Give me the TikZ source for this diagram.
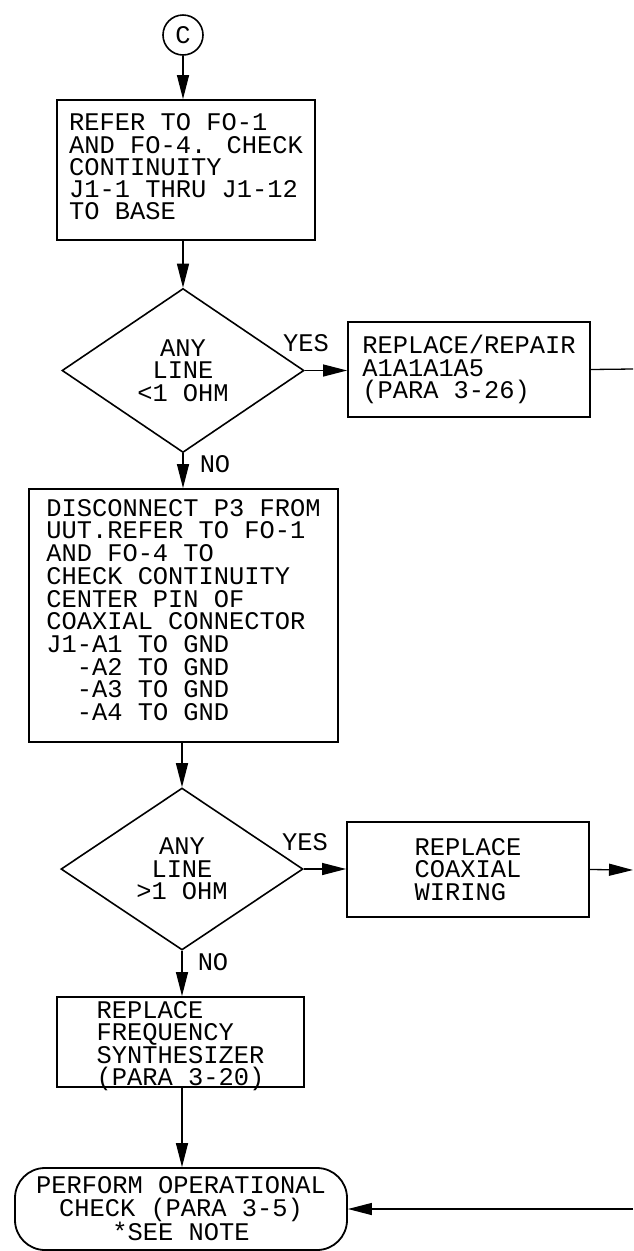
\documentclass[tikz,border=0pt]{standalone}
\usepackage{fontspec}
\usetikzlibrary{shapes.geometric,arrows.meta}
\newfontfamily\plotmono{Liberation Mono}
\newcommand{\plotfont}{\plotmono\fontsize{25.4}{22.3}\selectfont}
\newcommand{\plotfontwide}{\plotmono\fontsize{25.4}{22.7}\selectfont}
\tikzset{
  stepbox/.style={draw=black, line width=1.8pt, rectangle, inner sep=0pt, align=left, font=\plotfont},
  boxtext/.style={align=left, font=\plotfont, inner sep=0pt},
  decision/.style={draw=black, line width=1.6pt, diamond, inner sep=0pt, align=center, font=\plotfont},
  terminal/.style={draw=black, line width=1.8pt, rectangle, rounded corners=30pt, inner sep=0pt, align=center, font=\plotfont},
  conn/.style={draw=black, line width=1.3pt},
  arr/.style={conn, -{Triangle[length=24pt,width=12pt]}},
  lbl/.style={font=\plotfont, inner sep=0pt}
}
\begin{document}
\begin{tikzpicture}[x=1pt,y=-1pt]
\useasboundingbox[fill=white] (0,0) rectangle (633,1251);

\node[draw=black, line width=1.6pt, circle, minimum size=40pt, inner sep=0pt, font=\plotfont] (c) at (183,35) {C};

\node[stepbox, minimum width=258pt, minimum height=140pt,
  label={[boxtext, yshift=3pt]center:{REFER TO FO-1\\AND FO-4. CHECK\\CONTINUITY\\J1-1 THRU J1-12\\TO BASE}}] (b1) at (186,170) {};

\node[decision, minimum width=242pt, minimum height=164pt] (d1) at (183,370.5)
  {ANY\\LINE\\<1 OHM};

\node[stepbox, minimum width=242pt, minimum height=95pt] (b2) at (469,369.5)
  {REPLACE/REPAIR\\A1A1A1A5\\(PARA 3-26)};

\node[stepbox, minimum width=309pt, minimum height=253pt,
  label={[boxtext, font=\plotfontwide, yshift=5.5pt]center:{DISCONNECT P3 FROM\\UUT.REFER TO FO-1\\AND FO-4 TO\\CHECK CONTINUITY\\CENTER PIN OF\\COAXIAL CONNECTOR\\J1-A1 TO GND\\\phantom{J1}-A2 TO GND\\\phantom{J1}-A3 TO GND\\\phantom{J1}-A4 TO GND}}] (b3) at (183.5,615.5) {};

\node[decision, minimum width=242pt, minimum height=162pt] (d2) at (182,869)
  {ANY\\LINE\\>1 OHM};

\node[stepbox, minimum width=242pt, minimum height=95pt] (b4) at (468,869.5)
  {REPLACE\\COAXIAL\\WIRING};

\node[stepbox, minimum width=247pt, minimum height=90pt,
  label={[boxtext, yshift=-4pt]center:{REPLACE\\FREQUENCY\\SYNTHESIZER\\(PARA 3-20)}}] (b5) at (180.5,1042) {};

\node[terminal, minimum width=332pt, minimum height=82pt] (t) at (181,1209)
  {PERFORM OPERATIONAL\\CHECK (PARA 3-5)\\*SEE NOTE};

\coordinate (e1) at (633,369);
\coordinate (e2) at (633,870);
\coordinate (e3) at (633,1209);

\draw[arr] (c.south) -- (c.south |- b1.north);
\draw[arr] (d1.north |- b1.south) -- (d1.north);
\draw[arr] (d1.east) -- (d1.east -| b2.west);
\draw[conn] (b2.east) -- (e1);
\draw[arr] (d1.south) -- (d1.south |- b3.north);
\draw[arr] (d2.north |- b3.south) -- (d2.north);
\draw[arr] (d2.east) -- (d2.east -| b4.west);
\draw[arr] (b4.east) -- (e2);
\draw[arr] (d2.south) -- (d2.south |- b5.north);
\draw[arr] (d2.south |- b5.south) -- (d2.south |- t.north);
\draw[arr] (e3) -- (t.east);

\node[lbl] (y1) at (306,343) {YES};
\node[lbl] (n1) at (215,464) {NO};
\node[lbl] (y2) at (305,842) {YES};
\node[lbl] (n2) at (213,962) {NO};
\end{tikzpicture}
\end{document}
